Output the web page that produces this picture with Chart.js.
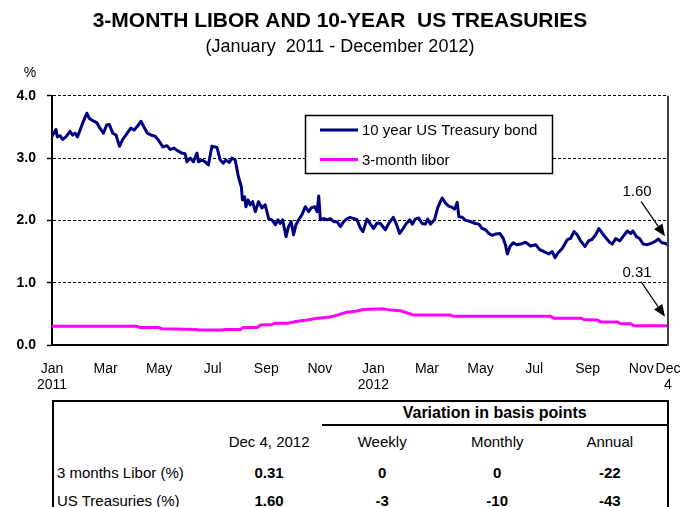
<!DOCTYPE html>
<html lang="en">
<head>
  <meta charset="UTF-8" />
  <title>3-Month Libor and 10-Year US Treasuries</title>
  <script src="https://cdn.jsdelivr.net/npm/chart.js"></script>
  <style>
    * { box-sizing: border-box; }
    body { margin: 0; background: #fff; font-family: 'Liberation Sans', Arial, sans-serif; color: #000; }
    #wrap { position: relative; width: 680px; height: 507px; overflow: hidden; }
    #grafico { display: block; }
    #tabla {
      position: absolute; left: 52px; top: 400px; width: 617px;
      border-collapse: collapse; font-size: 15px;
      border-top: 2px solid #000; border-left: 2px solid #000; border-right: 2px solid #000;
    }
    #tabla td { padding: 0; text-align: center; white-space: nowrap; }
    #tabla td.lbl { text-align: left; padding-left: 3px; }
    #tabla tr.h1 td { height: 24px; }
    #tabla tr.h1 td.var { font-weight: bold; font-size: 16px; border-bottom: 2px solid #000; }
    #tabla tr.h2 td { height: 32px; }
    #tabla tr.fila td { height: 30px; }
    #tabla tr.fila + tr.fila td { height: 26px; }
    #tabla tr.fila td.num { font-weight: bold; }
  </style>
</head>
<body>
  <div id="wrap">
    <canvas id="grafico" width="680" height="400"></canvas>
    <table id="tabla"></table>
  </div>

  <script>
    const FONT = "'Liberation Sans', Arial, sans-serif";

    // months since Jan 1, 2011
    const tsyMonths = [
      0.00, 0.15, 0.20, 0.30, 0.40, 0.52, 0.67, 0.77, 0.86, 0.95,
      1.05, 1.17, 1.30, 1.39, 1.52, 1.67, 1.79, 1.92, 2.04, 2.14,
      2.27, 2.39, 2.52, 2.64, 2.81, 2.94, 3.07, 3.19, 3.32, 3.41,
      3.56, 3.69, 3.85, 3.97, 4.14, 4.29, 4.41, 4.56, 4.68, 4.85,
      4.97, 5.04, 5.16, 5.28, 5.41, 5.47, 5.60, 5.72, 5.84, 5.97,
      6.16, 6.28, 6.40, 6.49, 6.62, 6.72, 6.84, 6.96, 7.07, 7.11,
      7.19, 7.24, 7.32, 7.40, 7.49, 7.59, 7.71, 7.84, 7.96, 8.09,
      8.21, 8.34, 8.44, 8.52, 8.61, 8.74, 8.83, 8.93, 9.02, 9.11,
      9.21, 9.33, 9.46, 9.58, 9.68, 9.81, 9.90, 9.96, 10.02, 10.14,
      10.27, 10.39, 10.52, 10.64, 10.77, 10.89, 11.02, 11.14, 11.26, 11.39,
      11.51, 11.61, 11.76, 11.89, 12.01, 12.14, 12.26, 12.45, 12.57, 12.74,
      12.86, 12.98, 13.11, 13.23, 13.36, 13.45, 13.57, 13.69, 13.82, 13.94,
      14.03, 14.13, 14.28, 14.40, 14.48, 14.57, 14.69, 14.81, 14.94, 15.03,
      15.13, 15.19, 15.32, 15.44, 15.56, 15.69, 15.81, 15.94, 16.06, 16.19,
      16.31, 16.44, 16.56, 16.72, 16.85, 16.93, 17.00, 17.10, 17.22, 17.35,
      17.50, 17.68, 17.87, 18.06, 18.21, 18.37, 18.55, 18.68, 18.78, 18.90,
      19.05, 19.24, 19.36, 19.49, 19.61, 19.74, 19.90, 20.03, 20.15, 20.30,
      20.42, 20.55, 20.70, 20.82, 20.92, 21.05, 21.20, 21.32, 21.48, 21.61,
      21.69, 21.82, 21.94, 22.07, 22.23, 22.42, 22.54, 22.64, 22.77, 22.92,
      23.00
    ];
    const tsyValues = [
      3.35, 3.46, 3.34, 3.36, 3.30, 3.34, 3.43, 3.37, 3.40, 3.34,
      3.45, 3.59, 3.72, 3.64, 3.60, 3.57, 3.48, 3.40, 3.53, 3.54,
      3.40, 3.37, 3.19, 3.30, 3.40, 3.48, 3.45, 3.51, 3.59, 3.52,
      3.40, 3.37, 3.35, 3.29, 3.18, 3.20, 3.14, 3.16, 3.12, 3.08,
      3.07, 2.94, 3.00, 2.94, 3.08, 2.94, 2.97, 2.94, 2.89, 3.19,
      3.17, 2.97, 2.92, 2.97, 2.93, 3.00, 2.97, 2.70, 2.54, 2.33,
      2.38, 2.22, 2.33, 2.25, 2.30, 2.14, 2.30, 2.20, 2.25, 2.03,
      2.01, 1.93, 2.01, 1.95, 2.01, 1.74, 1.90, 1.98, 1.77, 1.93,
      2.01, 2.09, 2.22, 2.14, 2.20, 2.22, 2.14, 2.39, 2.01, 2.03,
      2.01, 2.03, 1.98, 1.98, 1.90, 1.98, 2.03, 2.05, 2.03, 2.01,
      1.88, 1.82, 2.02, 1.94, 1.87, 1.96, 1.95, 1.85, 1.95, 2.05,
      1.94, 1.79, 1.87, 1.95, 2.01, 1.94, 2.02, 2.04, 1.95, 1.94,
      2.02, 1.94, 2.01, 2.20, 2.28, 2.36, 2.28, 2.23, 2.21, 2.18,
      2.29, 2.06, 2.05, 2.00, 1.99, 1.97, 1.95, 1.94, 1.87, 1.85,
      1.79, 1.76, 1.78, 1.79, 1.71, 1.61, 1.46, 1.58, 1.64, 1.61,
      1.62, 1.65, 1.59, 1.61, 1.53, 1.50, 1.46, 1.50, 1.40, 1.48,
      1.55, 1.69, 1.71, 1.82, 1.77, 1.67, 1.58, 1.67, 1.69, 1.77,
      1.87, 1.79, 1.71, 1.65, 1.62, 1.71, 1.67, 1.74, 1.83, 1.79,
      1.83, 1.74, 1.71, 1.62, 1.61, 1.64, 1.67, 1.70, 1.64, 1.63,
      1.60
    ];

    const liborMonths = [
      0.00, 3.18, 3.29, 3.96, 4.11, 5.35, 5.46, 6.36, 6.47, 7.03,
      7.14, 7.66, 7.78, 8.22, 8.34, 8.79, 9.16, 9.53, 9.91, 10.39,
      10.65, 10.95, 11.33, 11.63, 12.37, 12.64, 13.01, 13.38, 13.50, 14.88,
      14.99, 18.62, 18.73, 19.74, 19.85, 20.37, 20.49, 21.12, 21.23, 21.61,
      21.72, 23.00
    ];
    const liborValues = [
      0.30, 0.30, 0.28, 0.28, 0.26, 0.25, 0.24, 0.24, 0.25, 0.25,
      0.28, 0.28, 0.32, 0.33, 0.35, 0.35, 0.38, 0.40, 0.43, 0.45,
      0.48, 0.52, 0.54, 0.57, 0.58, 0.56, 0.55, 0.50, 0.48, 0.48,
      0.46, 0.46, 0.43, 0.43, 0.41, 0.40, 0.37, 0.37, 0.34, 0.34,
      0.31, 0.31
    ];

    const seriesNames = ['10 year US Treasury bond', '3-month libor'];
    const seriesColors = ['#000080', '#ff00ff'];

    const xTickMonths = [0, 2, 4, 6, 8, 10, 12, 14, 16, 18, 20, 22, 23];
    const xTickLabels = [['Jan', '2011'], 'Mar', 'May', 'Jul', 'Sep', 'Nov', ['Jan', '2012'],
                         'Mar', 'May', 'Jul', 'Sep', 'Nov', ['Dec', '4']];
    const yTickValues = [0, 1, 2, 3, 4];

    const tableHeader = ['', 'Dec 4, 2012', 'Weekly', 'Monthly', 'Annual'];
    const tableLabels = ['3 months Libor (%)', 'US Treasuries (%)'];
    const tableValues = [
      ['0.31', '0', '0', '-22'],
      ['1.60', '-3', '-10', '-43']
    ];

    // tabla de variaciones
    const colWidths = [163, 107, 120, 111, 116];
    let html = '<colgroup>' + colWidths.map(w => `<col style="width:${w}px">`).join('') + '</colgroup>';
    html += '<tr class="h1"><td colspan="2"></td><td colspan="3" class="var">Variation in basis points</td></tr>';
    html += '<tr class="h2">' + tableHeader.map(h => `<td>${h}</td>`).join('') + '</tr>';
    tableLabels.forEach((lbl, i) => {
      html += `<tr class="fila"><td class="lbl">${lbl}</td>` +
        tableValues[i].map(v => `<td class="num">${v}</td>`).join('') + '</tr>';
    });
    document.getElementById('tabla').innerHTML = html;

    function arrow(ctx, x1, y1, x2, y2) {
      const ang = Math.atan2(y2 - y1, x2 - x1);
      const len = 12, half = 5;
      const bx = x2 - len * Math.cos(ang), by = y2 - len * Math.sin(ang);
      ctx.beginPath();
      ctx.moveTo(x1, y1);
      ctx.lineTo(bx, by);
      ctx.stroke();
      ctx.beginPath();
      ctx.moveTo(x2, y2);
      ctx.lineTo(bx + half * Math.sin(ang), by - half * Math.cos(ang));
      ctx.lineTo(bx - half * Math.sin(ang), by + half * Math.cos(ang));
      ctx.closePath();
      ctx.fill();
    }

    const extras = {
      id: 'extras',
      afterDraw(chart) {
        const { ctx, chartArea: a, scales: { x, y } } = chart;
        ctx.save();

        // borde derecho
        ctx.strokeStyle = '#404040';
        ctx.lineWidth = 2;
        ctx.beginPath();
        ctx.moveTo(a.right, a.top);
        ctx.lineTo(a.right, a.bottom + 1);
        ctx.stroke();

        ctx.fillStyle = '#000';
        ctx.font = '14px ' + FONT;
        ctx.textAlign = 'center';
        ctx.textBaseline = 'middle';
        ctx.fillText('%', 30, 73);

        // leyenda
        ctx.fillStyle = '#fff';
        ctx.fillRect(305.5, 115.5, 247, 58);
        ctx.strokeStyle = '#000';
        ctx.lineWidth = 1.5;
        ctx.strokeRect(305.5, 115.5, 247, 58);
        ctx.font = '15px ' + FONT;
        ctx.textAlign = 'left';
        chart.data.datasets.forEach((ds, i) => {
          const ly = 130 + i * 29.5;
          ctx.strokeStyle = ds.borderColor;
          ctx.lineWidth = 3;
          ctx.beginPath();
          ctx.moveTo(320, ly);
          ctx.lineTo(358, ly);
          ctx.stroke();
          ctx.fillStyle = '#000';
          ctx.fillText(ds.label, 362, ly + 1);
        });

        // flechas con el último valor
        ctx.strokeStyle = '#000';
        ctx.fillStyle = '#000';
        ctx.lineWidth = 1.2;
        ctx.textAlign = 'center';
        chart.data.datasets.forEach(ds => {
          const last = ds.data[ds.data.length - 1];
          const px = x.getPixelForValue(last.x);
          const py = y.getPixelForValue(last.y);
          arrow(ctx, px - 27, py - 44, px - 3, py - 9);
          ctx.fillText(last.y.toFixed(2), px - 31, py - 53);
        });

        ctx.restore();
      }
    };

    const toPoints = (ms, vs) => ms.map((m, i) => ({ x: m, y: vs[i] }));

    new Chart(document.getElementById('grafico'), {
      type: 'line',
      data: {
        datasets: [
          {
            label: seriesNames[0],
            data: toPoints(tsyMonths, tsyValues),
            borderColor: seriesColors[0],
            borderWidth: 3,
            pointRadius: 0,
            borderJoinStyle: 'round',
            tension: 0
          },
          {
            label: seriesNames[1],
            data: toPoints(liborMonths, liborValues),
            borderColor: seriesColors[1],
            borderWidth: 3,
            pointRadius: 0,
            borderJoinStyle: 'round',
            tension: 0
          }
        ]
      },
      options: {
        responsive: false,
        animation: false,
        events: [],
        layout: { padding: { left: 0, right: 0, top: 0, bottom: 7 } },
        plugins: {
          legend: { display: false },
          tooltip: { enabled: false },
          title: {
            display: true,
            text: '3-MONTH LIBOR AND 10-YEAR  US TREASURIES',
            color: '#000',
            font: { family: FONT, size: 21, weight: 'bold' },
            padding: { top: 9, bottom: 2 }
          },
          subtitle: {
            display: true,
            text: '(January  2011 - December 2012)',
            color: '#000',
            font: { family: FONT, size: 18 },
            padding: { top: 0, bottom: 38 }
          }
        },
        scales: {
          x: {
            type: 'linear',
            min: 0,
            max: 23,
            afterBuildTicks: s => { s.ticks = xTickMonths.map(v => ({ value: v })); },
            afterFit: s => { s.height = 48; s.paddingLeft = 0; s.paddingRight = 12; },
            ticks: {
              autoSkip: false,
              maxRotation: 0,
              padding: 16,
              color: '#000',
              font: { family: FONT, size: 14, lineHeight: 16 / 14 },
              callback: (v, i) => xTickLabels[i]
            },
            grid: { display: false, drawTicks: false },
            border: { color: '#000', width: 2 }
          },
          y: {
            min: 0,
            max: 4,
            afterBuildTicks: s => { s.ticks = yTickValues.map(v => ({ value: v })); },
            afterFit: s => { s.width = 52; },
            ticks: {
              padding: 11,
              color: '#000',
              font: { family: FONT, size: 14, weight: 'bold' },
              callback: v => v.toFixed(1)
            },
            grid: {
              color: '#000',
              lineWidth: 1,
              tickLength: 5,
              tickColor: '#000',
              tickWidth: 1.5,
              tickBorderDash: []
            },
            border: { color: '#000', width: 2, dash: [3, 2] }
          }
        }
      },
      plugins: [extras]
    });
  </script>
</body>
</html>
